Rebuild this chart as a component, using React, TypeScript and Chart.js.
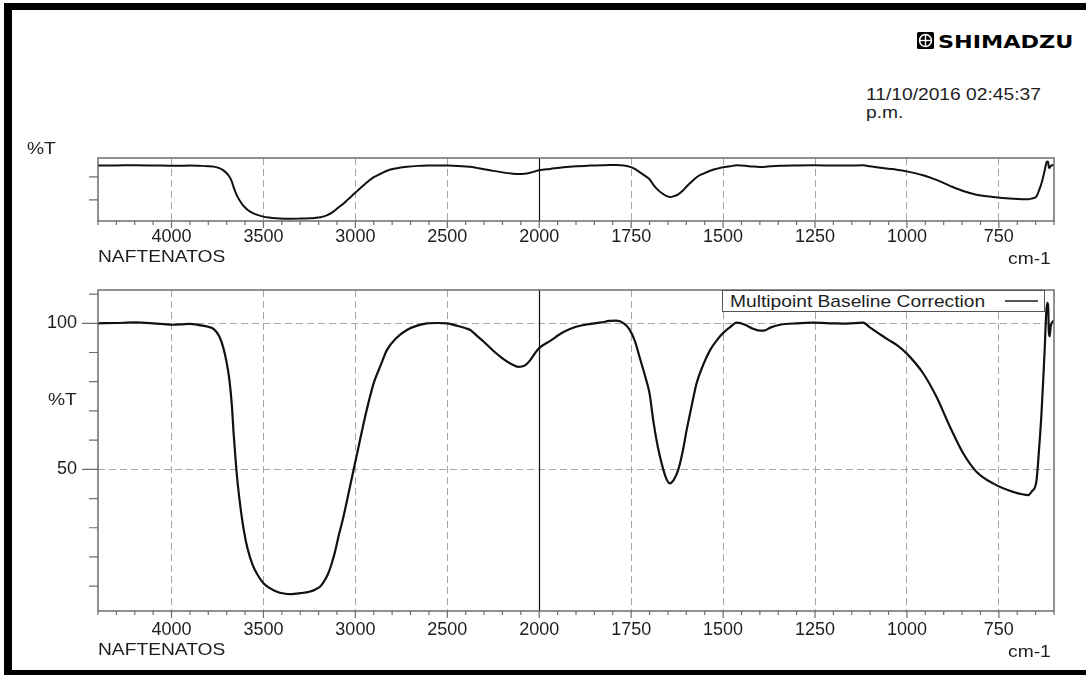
import React, { useEffect, useRef } from "react";
import { Chart, registerables } from "chart.js";

Chart.register(...registerables);

// ---- Data (wavenumber in cm-1, transmittance in %T) ----
const WAVENUMBERS = [
  4400, 4300, 4200, 4100, 4000, 3950, 3900, 3850, 3800, 3770, 3740, 3720, 3700, 3685, 3672, 3662, 3650, 3640,
  3625, 3607, 3587, 3560, 3533, 3500, 3470, 3430, 3390, 3350, 3300, 3250, 3220, 3190, 3172, 3150, 3130, 3110,
  3090, 3064, 3040, 3010, 2980, 2955, 2930, 2900, 2860, 2828, 2780, 2720, 2660, 2610, 2550, 2500, 2450, 2400,
  2375, 2340, 2300, 2250, 2200, 2150, 2112, 2080, 2049, 2020, 2000, 1970, 1934, 1900, 1861, 1830, 1810, 1790,
  1770, 1755, 1740, 1725, 1710, 1700, 1689, 1678, 1667, 1655, 1645, 1635, 1622, 1610, 1599, 1585, 1572, 1555,
  1535, 1515, 1499, 1480, 1463, 1440, 1420, 1400, 1390, 1370, 1345, 1300, 1255, 1200, 1164, 1119, 1100, 1073,
  1050, 1028, 1001, 956, 920, 883, 847, 811, 766, 711, 670, 660, 648,
  640, 634, 628, 625, 621, 618, 616, 614, 612, 609, 604, 600,
];
const TRANSMITTANCE = [
  100.0, 100.1, 100.3, 100.0, 99.5, 99.6, 99.8, 99.4, 98.8, 98.0, 95.5, 92.0, 86.5, 80.5, 72.0, 62.0, 52.0, 45.0,
  37.0, 29.2, 23.0, 17.5, 14.0, 11.0, 9.5, 8.2, 7.5, 7.3, 7.6, 8.1, 8.8, 10.0, 11.5, 14.0, 17.5, 22.0,
  27.5, 34.0, 41.0, 49.8, 58.5, 65.8, 72.5, 79.6, 86.0, 90.9, 94.8, 97.7, 99.3, 100.0, 100.1, 100.0, 99.2, 98.3,
  97.7, 95.8, 93.6, 90.6, 88.0, 86.0, 85.1, 85.5, 87.4, 90.0, 91.5, 94.0, 97.0, 98.8, 99.8, 100.3, 100.8, 100.9,
  100.0, 98.0, 94.0, 87.5, 81.0, 76.0, 66.0, 58.0, 52.0, 47.0, 45.2, 46.2, 49.8, 56.0, 63.5, 72.0, 79.5, 85.5,
  90.9, 94.5, 96.8, 98.8, 100.2, 99.5, 98.2, 97.5, 97.5, 98.6, 99.5, 100.0, 100.2, 100.0, 99.9, 100.2, 98.5, 96.2,
  94.3, 92.6, 89.7, 82.9, 74.9, 64.6, 55.5, 49.2, 45.2, 42.3, 41.2, 42.5, 45.8,
  58.0, 69.2, 84.0, 92.0, 104.0, 107.0, 106.0, 97.0, 95.5, 99.0, 100.5, 101.0,
];

const X_LABEL_WAVENUMBERS = [4000, 3500, 3000, 2500, 2000, 1750, 1500, 1250, 1000, 750];
const MAIN_Y_LABELS = [100, 50];
const MAIN_Y_MINOR = [10, 20, 30, 40, 60, 70, 80, 90, 110];
const OVERVIEW_Y_TICKS = [40, 80];
const SERIES_NAME = "Multipoint Baseline Correction";
const SAMPLE_NAME = "NAFTENATOS";
const X_UNIT = "cm-1";
const Y_UNIT = "%T";
const TIMESTAMP = "11/10/2016 02:45:37";
const TIMESTAMP_SUFFIX = "p.m.";
const BRAND = "SHIMADZU";

// Wavenumber axis with 2x expansion below 2000 cm-1
const BREAK = 2000;
const toAxis = (wn: number) => (wn <= BREAK ? wn : BREAK + (wn - BREAK) / 2);
const fromAxis = (u: number) => (u <= BREAK ? u : BREAK + (u - BREAK) * 2);

const FONT = "'Liberation Sans', Arial, sans-serif";
const TEXT = "#1e1e1e";
const W = 1086;
const H = 675;

type Kind = "overview" | "main";

function decorPlugin(kind: Kind) {
  const yTicks =
    kind === "main"
      ? [...MAIN_Y_LABELS.map((v) => ({ v, len: 16 })), ...MAIN_Y_MINOR.map((v) => ({ v, len: 9 }))]
      : OVERVIEW_Y_TICKS.map((v) => ({ v, len: 9 }));
  return {
    id: "decor_" + kind,
    beforeDatasetsDraw(chart: any) {
      const { ctx, chartArea: a, scales } = chart;
      const x = Math.round(scales.x.getPixelForValue(toAxis(BREAK))) + 0.5;
      ctx.save();
      ctx.strokeStyle = "#111";
      ctx.lineWidth = 1.2;
      ctx.beginPath();
      ctx.moveTo(x, a.top);
      ctx.lineTo(x, a.bottom);
      ctx.stroke();
      ctx.restore();
    },
    afterDraw(chart: any) {
      const { ctx, chartArea: a, scales } = chart;
      ctx.save();
      ctx.strokeStyle = "#6c6c6c";
      ctx.lineWidth = 1.5;
      ctx.strokeRect(a.left, a.top, a.right - a.left, a.bottom - a.top);
      ctx.lineWidth = 1.2;
      ctx.beginPath();
      const xs = scales.x;
      for (let u = 600; u <= 3200; u += 50) {
        const px = xs.getPixelForValue(u);
        const major = X_LABEL_WAVENUMBERS.includes(fromAxis(u));
        ctx.moveTo(px, a.bottom);
        ctx.lineTo(px, a.bottom + (major ? 7 : 4));
      }
      const ys = scales.y;
      yTicks.forEach((t) => {
        const py = ys.getPixelForValue(t.v);
        ctx.moveTo(a.left, py);
        ctx.lineTo(a.left - t.len, py);
      });
      ctx.stroke();
      ctx.restore();
    },
  };
}

function buildConfig(kind: Kind): any {
  const isMain = kind === "main";
  const area = isMain ? { top: 290, bottom: 611 } : { top: 158, bottom: 221 };
  const points = WAVENUMBERS.map((w, i) => ({ x: toAxis(w), y: TRANSMITTANCE[i] }));
  return {
    type: "line",
    data: {
      datasets: [
        {
          label: SERIES_NAME,
          data: points,
          borderColor: "#111",
          borderWidth: isMain ? 2.2 : 2,
          pointRadius: 0,
          fill: false,
          cubicInterpolationMode: "monotone",
        },
      ],
    },
    options: {
      responsive: false,
      animation: false,
      events: [],
      layout: { padding: { left: 0, right: W - 1054, top: area.top, bottom: 0 } },
      plugins: { legend: { display: false }, tooltip: { enabled: false }, title: { display: false } },
      scales: {
        x: {
          type: "linear",
          min: 600,
          max: 3200,
          reverse: true,
          afterBuildTicks: (s: any) => {
            s.ticks = X_LABEL_WAVENUMBERS.map((w) => ({ value: toAxis(w) }));
          },
          afterFit: (s: any) => {
            s.height = H - area.bottom;
          },
          ticks: {
            callback: (v: number) => String(fromAxis(v)),
            font: { family: FONT, size: 18 },
            color: TEXT,
            padding: isMain ? 8 : 5,
            maxRotation: 0,
            autoSkip: false,
          },
          grid: {
            color: (c: any) => (c.tick && c.tick.value === toAxis(BREAK) ? "rgba(0,0,0,0)" : "#a6a6a6"),
            lineWidth: 1,
            drawTicks: false,
          },
          border: { display: false, dash: [7, 4] },
        },
        y: {
          type: "linear",
          min: isMain ? 1.5 : 3.4,
          max: isMain ? 111.4 : 113,
          afterBuildTicks: (s: any) => {
            s.ticks = (isMain ? MAIN_Y_LABELS : OVERVIEW_Y_TICKS).map((v) => ({ value: v }));
          },
          afterFit: (s: any) => {
            s.width = 98;
          },
          ticks: {
            display: isMain,
            font: { family: FONT, size: 18 },
            color: TEXT,
            padding: 21,
            callback: (v: number) => String(v),
          },
          grid: { display: isMain, color: "#a6a6a6", lineWidth: 1, drawTicks: false },
          border: { display: false, dash: [7, 4] },
        },
      },
    },
    plugins: [decorPlugin(kind)],
  };
}

function SpectrumChart({ kind }: { kind: Kind }) {
  const ref = useRef<HTMLCanvasElement>(null);
  useEffect(() => {
    const chart = new Chart(ref.current as HTMLCanvasElement, buildConfig(kind));
    return () => chart.destroy();
  }, [kind]);
  return (
    <canvas
      ref={ref}
      width={W}
      height={H}
      style={{ position: "absolute", left: 0, top: 0, width: W, height: H }}
    />
  );
}

const txt = (extra: React.CSSProperties): React.CSSProperties => ({
  position: "absolute",
  fontFamily: FONT,
  fontSize: 17,
  lineHeight: "17px",
  color: TEXT,
  whiteSpace: "nowrap",
  transform: "scaleX(1.13)",
  transformOrigin: "left top",
  ...extra,
});

export default function App() {
  return (
    <div
      style={{
        position: "fixed",
        left: 0,
        top: 0,
        width: W,
        height: H,
        overflow: "hidden",
        background: "#fff",
      }}
    >
      <div
        style={{
          position: "absolute",
          left: 4,
          top: 3,
          width: 1110,
          height: 674,
          boxSizing: "border-box",
          borderLeft: "8px solid #000",
          borderTop: "7px solid #000",
          borderBottom: "7px solid #000",
        }}
      />
      {/* Header */}
      <svg width={17} height={17} viewBox="0 0 16 16" style={{ position: "absolute", left: 917, top: 32 }}>
        <rect x={0} y={0} width={16} height={16} rx={1.5} fill="#000" />
        <circle cx={8} cy={8} r={5.6} stroke="#fff" strokeWidth={1.5} fill="none" />
        <line x1={8} y1={2.6} x2={8} y2={13.4} stroke="#fff" strokeWidth={1.3} />
        <line x1={2.6} y1={8} x2={13.4} y2={8} stroke="#fff" strokeWidth={1.3} />
      </svg>
      <div
        style={{
          position: "absolute",
          left: 938,
          top: 33,
          fontFamily: "'DejaVu Sans', sans-serif",
          fontWeight: 700,
          fontSize: 18,
          lineHeight: "18px",
          color: "#000",
          whiteSpace: "nowrap",
          transform: "scaleX(1.24)",
          transformOrigin: "left top",
        }}
      >
        {BRAND}
      </div>
      <div style={txt({ left: 866, top: 86 })}>{TIMESTAMP}</div>
      <div style={txt({ left: 866, top: 104 })}>{TIMESTAMP_SUFFIX}</div>

      <SpectrumChart kind="overview" />
      <SpectrumChart kind="main" />

      {/* Overview panel labels */}
      <div style={txt({ left: 27, top: 140 })}>{Y_UNIT}</div>
      <div style={txt({ left: 98, top: 248 })}>{SAMPLE_NAME}</div>
      <div style={txt({ right: W - 1051, top: 250, transformOrigin: "right top" })}>{X_UNIT}</div>

      {/* Main panel labels */}
      <div style={txt({ left: 48, top: 391 })}>{Y_UNIT}</div>
      <div style={txt({ left: 98, top: 641 })}>{SAMPLE_NAME}</div>
      <div style={txt({ right: W - 1051, top: 643, transformOrigin: "right top" })}>{X_UNIT}</div>

      {/* Legend */}
      <div
        style={{
          position: "absolute",
          left: 722,
          top: 290,
          width: 323,
          height: 22,
          boxSizing: "border-box",
          border: "1px solid #555",
          background: "#fff",
        }}
      />
      <div style={txt({ left: 730, top: 293 })}>{SERIES_NAME}</div>
      <div style={{ position: "absolute", left: 1005, top: 300, width: 33, height: 1.5, background: "#555" }} />
    </div>
  );
}
